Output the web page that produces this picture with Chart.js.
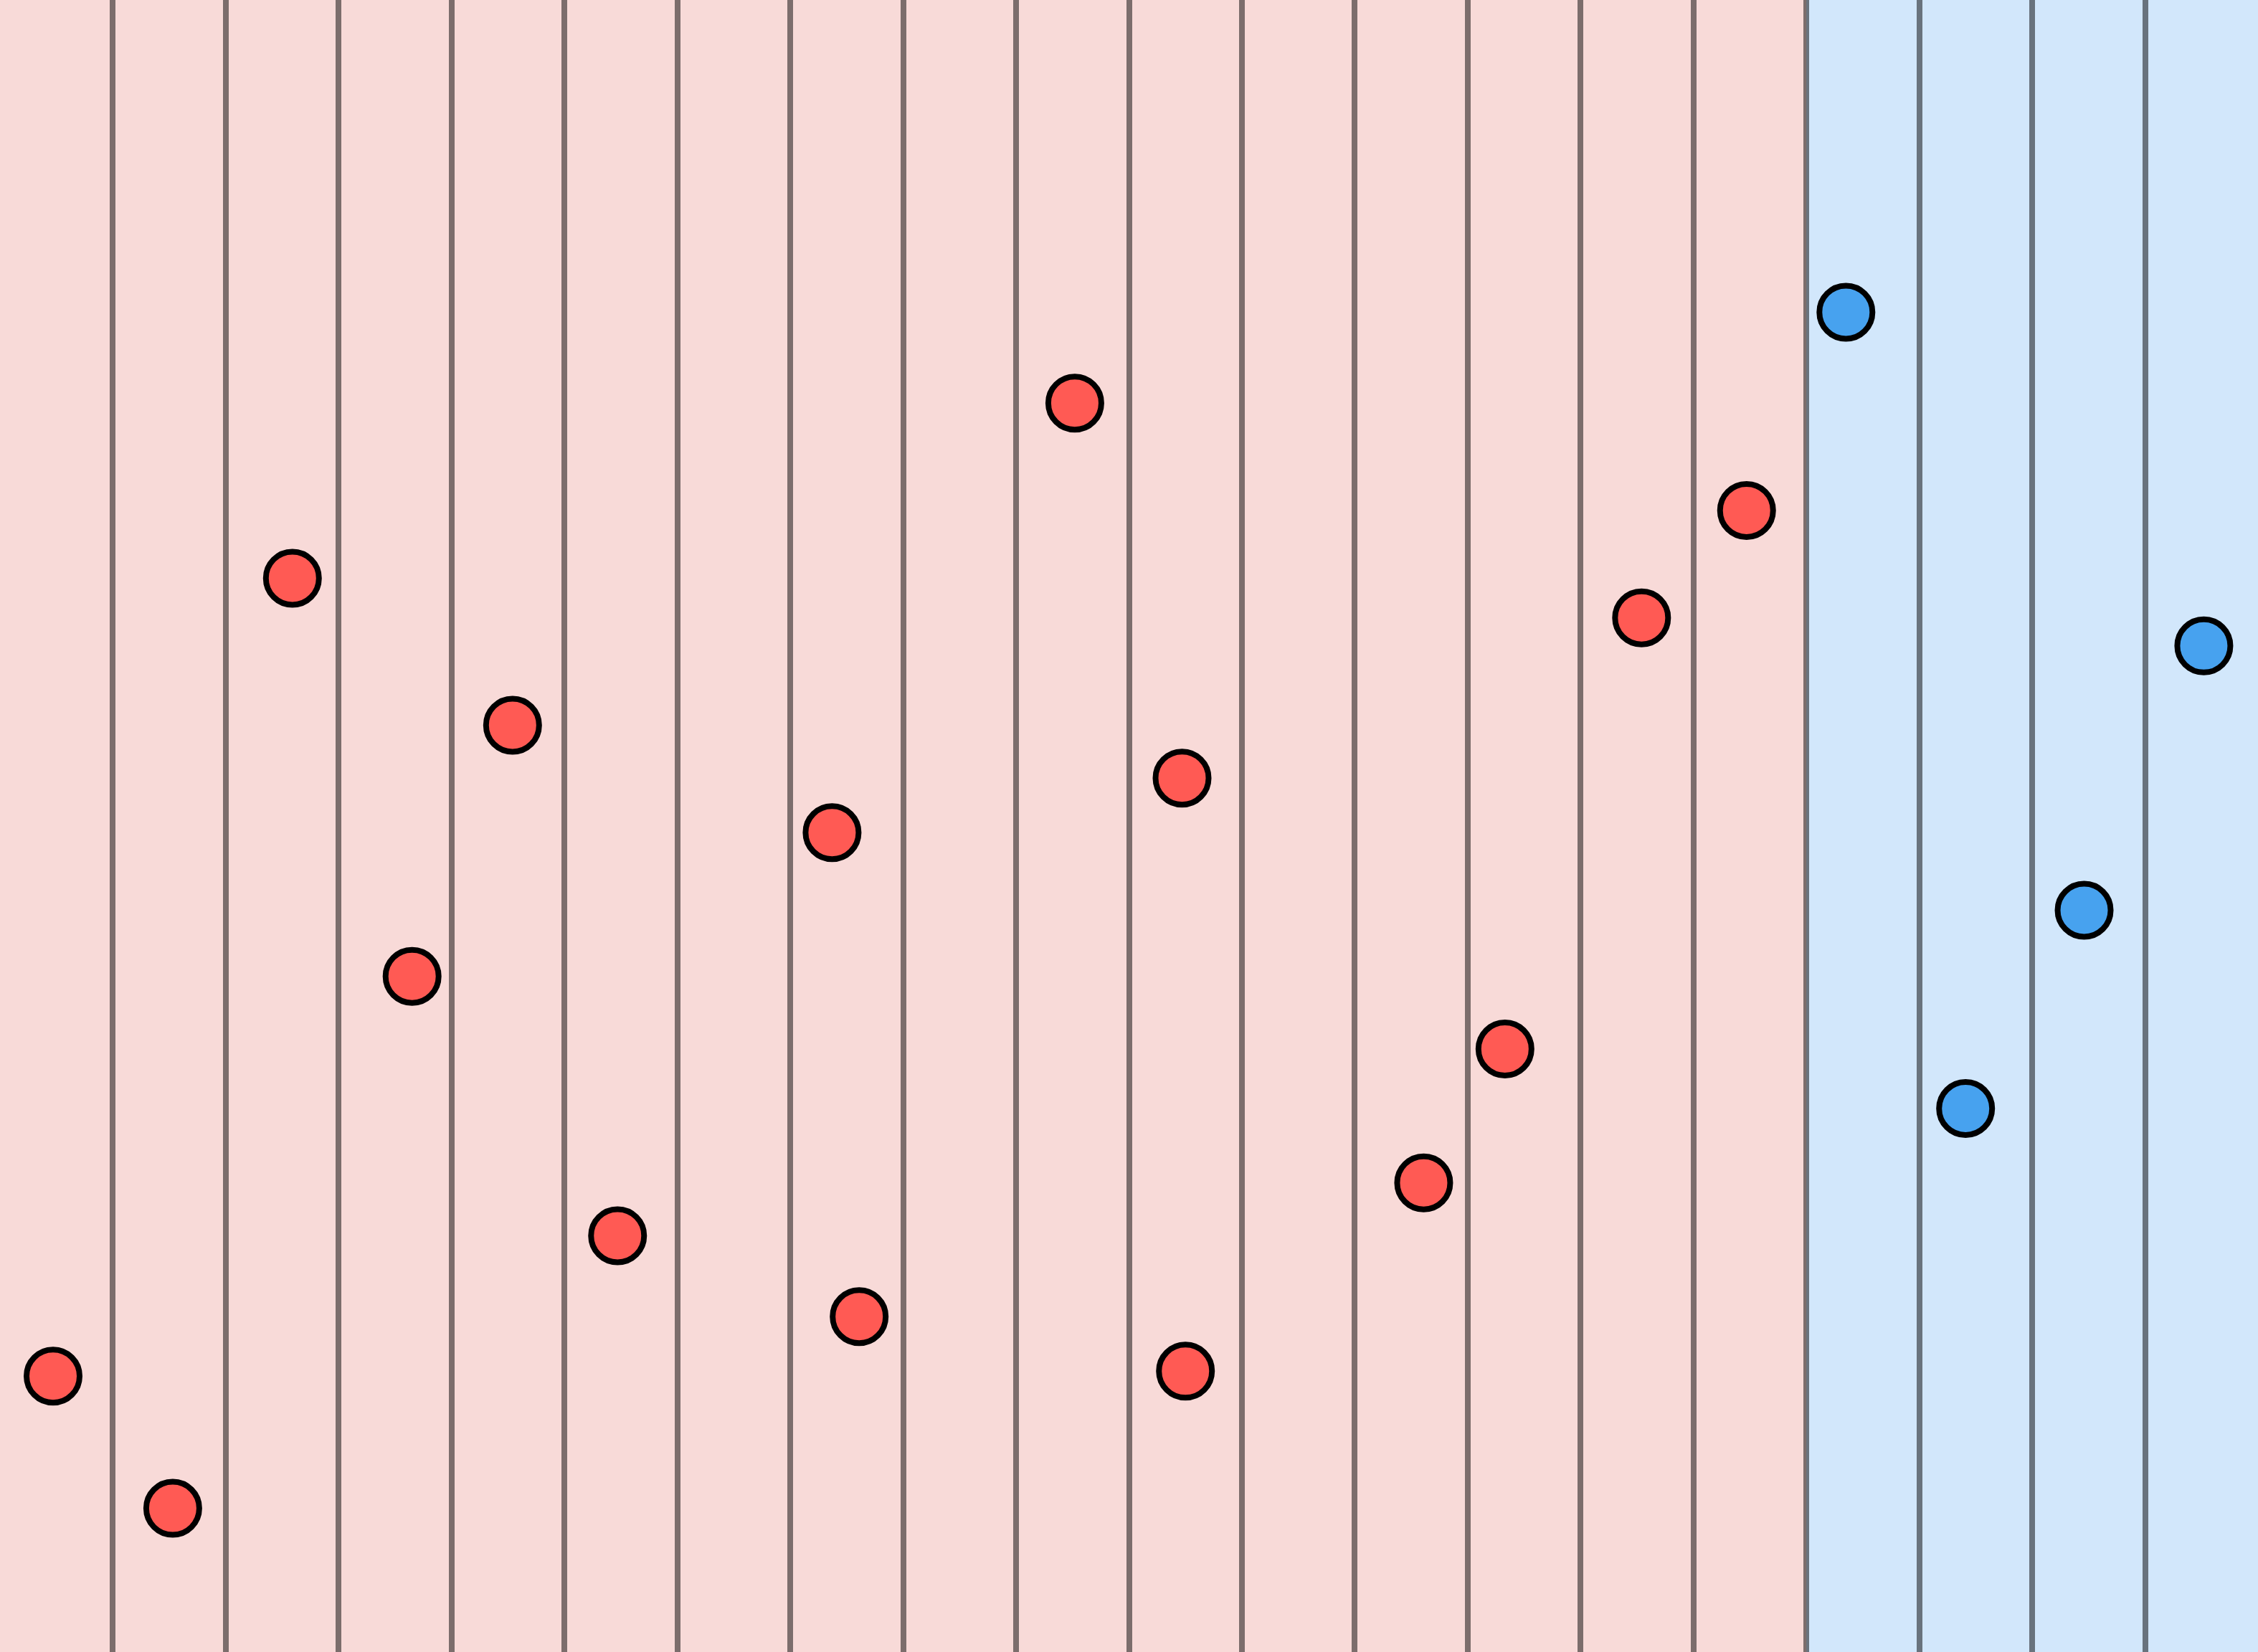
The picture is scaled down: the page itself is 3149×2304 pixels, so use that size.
<!DOCTYPE html>
<html>
<head>
<meta charset="utf-8">
<script src="https://cdn.jsdelivr.net/npm/chart.js@4/dist/chart.umd.min.js"></script>
<style>
  html, body { margin: 0; padding: 0; background: #ffffff; overflow: hidden; }
  #wrap { position: relative; width: 3149px; height: 2304px; }
</style>
</head>
<body>
<div id="wrap"><canvas id="grafico"></canvas></div>
<script>
// datos (x en columnas 0..20, y en 0..100)
const redX = [0.47, 1.53, 2.59, 3.65, 4.54, 5.47, 7.37, 7.61, 9.52, 10.47, 10.50, 12.61, 13.33, 14.54, 15.47];
const redY = [16.7, 8.7, 65.0, 40.9, 56.1, 25.2, 49.6, 20.3, 75.6, 52.9, 17.0, 28.4, 36.5, 62.6, 69.1];
const blueX = [16.35, 17.41, 18.46, 19.52];
const blueY = [81.1, 32.9, 44.9, 60.9];

// zonas de fondo
const zoneStart = [0, 16];
const zoneEnd = [16, 20];
const zoneColors = ['#f8dad8', '#d2e7fb'];

const toPoints = (xs, ys) => xs.map((x, i) => ({ x: x, y: ys[i] }));

// plugin para pintar las zonas de fondo usando las escalas
const zonas = {
  id: 'zonas',
  beforeDraw(chart) {
    const c = chart.ctx;
    const xs = chart.scales.x;
    const area = chart.chartArea;
    c.save();
    zoneStart.forEach((s, i) => {
      const a = xs.getPixelForValue(s);
      const b = xs.getPixelForValue(zoneEnd[i]);
      c.fillStyle = zoneColors[i];
      c.fillRect(a, area.top, b - a, area.bottom - area.top);
    });
    c.restore();
  }
};

const ctx = document.getElementById('grafico').getContext('2d');
const chart = new Chart(ctx, {
  type: 'scatter',
  data: {
    datasets: [{
      label: 'rojo',
      data: toPoints(redX, redY),
      backgroundColor: '#ff5a54',
      borderColor: '#000000',
      borderWidth: 8,
      pointRadius: 37,
      pointHoverRadius: 37
    }, {
      label: 'azul',
      data: toPoints(blueX, blueY),
      backgroundColor: '#47a2ef',
      borderColor: '#000000',
      borderWidth: 8,
      pointRadius: 37,
      pointHoverRadius: 37
    }]
  },
  options: {
    responsive: true,
    maintainAspectRatio: false,
    devicePixelRatio: 1,
    animation: false,
    layout: { padding: 0, autoPadding: false },
    plugins: {
      legend: { display: false },
      tooltip: { enabled: false }
    },
    scales: {
      x: {
        type: 'linear',
        min: 0,
        max: 20,
        ticks: { display: false, stepSize: 1 },
        border: { display: false },
        grid: {
          drawTicks: false,
          lineWidth: 8,
          color: (c) => (c.tick && (c.tick.value === 0 || c.tick.value === 20)) ? 'rgba(0,0,0,0)' : 'rgba(0,0,0,0.5)'
        }
      },
      y: {
        display: false,
        min: 0,
        max: 100
      }
    }
  },
  plugins: [zonas]
});
</script>
</body>
</html>
